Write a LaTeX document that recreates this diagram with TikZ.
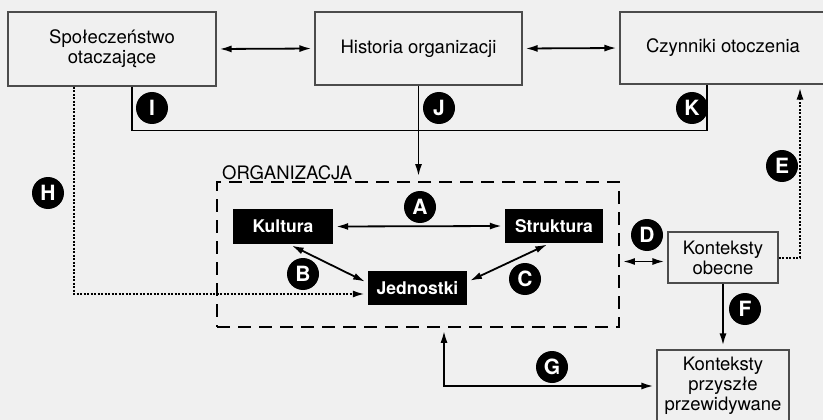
\documentclass[tikz,border=0pt]{standalone}
\usepackage{fontspec}
\setmainfont{TeX Gyre Heros}
\usetikzlibrary{arrows.meta}

\begin{document}
\begin{tikzpicture}[x=1pt, y=-1pt,
    box/.style={draw=black!70, line width=1.1pt, align=center, inner sep=0pt,
        font=\fontsize{18.5}{20}\selectfont},
    darkbox/.style={fill=black, text=white, inner sep=0pt,
        font=\fontsize{17.5}{20}\selectfont\bfseries},
    badge/.style={circle, fill=black, text=white, minimum size=32pt, inner sep=0pt,
        font=\fontsize{21}{21}\selectfont\bfseries},
    link/.style={line width=1.8pt, shorten <=3pt, shorten >=3pt},
    onearrow/.style={link, shorten <=0pt, -{Latex[length=12pt,width=7pt]}},
    twoarrow/.style={link, {Latex[length=12pt,width=7pt]}-{Latex[length=12pt,width=7pt]}},
    dotlink/.style={line width=2pt, dash pattern=on 2pt off 1.5pt, shorten >=3pt,
        -{Latex[length=12pt,width=7pt]}}]
    \fill[black!6] (0,0) rectangle (823,420);
    \useasboundingbox (0,0) rectangle (823,420);

    % outer boxes
    \node[box, minimum width=208pt, minimum height=74pt] (spol) at (112,49) {Społeczeństwo\\otaczające};
    \node[box, minimum width=207pt, minimum height=73pt] (hist) at (418.5,48.5) {Historia organizacji};
    \node[box, minimum width=206pt, minimum height=72pt] (czyn) at (723,48) {Czynniki otoczenia};
    \node[box, minimum width=110pt, minimum height=51pt] (obec) at (723,257.5) {Konteksty\\obecne};
    \node[box, minimum width=132pt, minimum height=72pt] (przy) at (723,386) {Konteksty\\przyszłe\\przewidywane};

    % organizacja
    \node[draw, line width=1.8pt, dash pattern=on 13pt off 8pt,
        minimum width=402pt, minimum height=145pt] (org) at (418,254.5) {};
    \node[anchor=base west, inner sep=0pt, font=\fontsize{18.5}{20}\selectfont] (orglbl) at (222,179) {ORGANIZACJA};
    \node[darkbox, minimum width=100pt, minimum height=35pt] (kult) at (283,226.5) {Kultura};
    \node[darkbox, minimum width=98pt, minimum height=34pt] (strk) at (554,226) {Struktura};
    \node[darkbox, minimum width=99pt, minimum height=34pt] (jedn) at (417.5,288) {Jednostki};

    % connectors
    \draw[twoarrow] (spol.east) -- (hist.west);
    \draw[twoarrow] (hist.east) -- (czyn.west);
    \draw[line width=1.8pt] ([xshift=20]spol.south) -- ++(0,44) -| ([xshift=-16]czyn.south);
    \draw[onearrow, shorten >=5pt] (hist.south) -- (hist.south |- org.north);
    \draw[twoarrow] (kult.east) -- (strk.west);
    \draw[twoarrow] ([xshift=6]kult.south) -- ([yshift=5]jedn.west);
    \draw[twoarrow] ([yshift=6]jedn.east) -- ([xshift=-4]strk.south);
    \coordinate (dR) at ([yshift=-4]obec.west);
    \draw[twoarrow] (dR -| org.east) -- (dR);
    \draw[dotlink] (obec.east) -| ([xshift=77]czyn.south);
    \draw[onearrow, shorten >=4pt] (obec.south) -- (przy.north);
    \draw[twoarrow] (przy.west) -| ([xshift=26]org.south);
    \draw[dotlink] ([xshift=-38]spol.south) |- ([yshift=-6]jedn.west);

    % badges
    \node[badge] (bI) at (152,108) {I};
    \node[badge] (bJ) at (439,108) {J};
    \node[badge] (bK) at (692,108) {K};
    \node[badge] (bH) at (48,193) {H};
    \node[badge] (bE) at (782,166) {E};
    \node[badge] (bA) at (420,207) {A};
    \node[badge] (bB) at (303,274) {B};
    \node[badge] (bC) at (525,279) {C};
    \node[badge] (bD) at (647,235) {D};
    \node[badge] (bF) at (745,309) {F};
    \node[badge] (bG) at (552,367) {G};
\end{tikzpicture}
\end{document}
